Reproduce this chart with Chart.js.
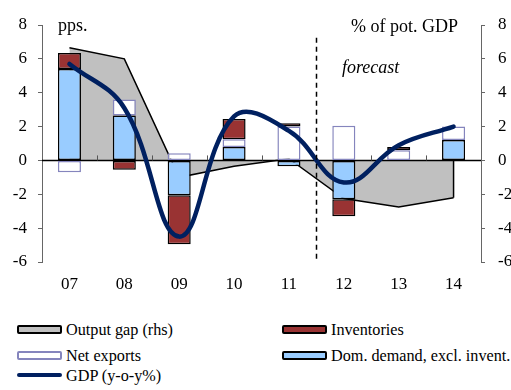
<!DOCTYPE html>
<html>
<head>
<meta charset="utf-8">
<script src="https://cdn.jsdelivr.net/npm/chart.js@4/dist/chart.umd.min.js"></script>
<style>
  html, body { margin: 0; padding: 0; background: #fff; }
  #wrap { position: relative; width: 511px; height: 390px; overflow: hidden; background: #fff; font-family: "Liberation Serif", "Times New Roman", serif; color: #000; }
  #cv { position: absolute; left: 0; top: 0; width: 511px; height: 300px; }
  .ann { position: absolute; font-size: 18px; line-height: 18px; white-space: nowrap; }
  .leg { position: absolute; font-size: 16.2px; line-height: 16px; white-space: nowrap; }
  .box { position: absolute; width: 45px; height: 9px; box-sizing: border-box; border-radius: 2px; }
</style>
</head>
<body>
<div id="wrap">
  <div id="cv"><canvas id="chart"></canvas></div>
  <div class="ann" style="left:58px; top:16px;">pps.</div>
  <div class="ann" style="left:351px; top:17px;">% of pot. GDP</div>
  <div class="ann" style="left:342px; top:58px; font-style:italic;">forecast</div>
  <div id="legend"></div>
</div>
<script>
const categories = ['07', '08', '09', '10', '11', '12', '13', '14'];
const domDemand   = [5.4, 2.65, -2.05, 0.8, -0.35, -2.3, 0.0, 1.2];
const netExports  = [-0.7, 0.95, 0.43, 0.45, 2.0, 2.05, 0.6, 0.8];
const inventories = [0.95, -0.55, -2.9, 1.2, 0.2, -1.0, 0.2, 0.0];
const outputGap   = [6.65, 6.0, -1.0, -0.35, 0.1, -2.25, -2.75, -2.2];
const gdp         = [5.7, 3.1, -4.5, 2.6, 1.75, -1.3, 0.9, 2.0];
const yTicks = [-6, -4, -2, 0, 2, 4, 6, 8];

const C = {
  gap: '#C0C0C0', inv: '#993333', nx: '#8585BD', dom: '#99CCFF', gdp: '#002060'
};

const decor = {
  id: 'decor',
  afterDatasetDraw(chart, args) {
    if (chart.data.datasets[args.index].label !== 'Output gap (rhs)') return;
    const ctx = chart.ctx, x = chart.scales.x, y = chart.scales.y, a = chart.chartArea;
    const y0 = y.getPixelForValue(0);
    ctx.save();
    const li = outputGap.length - 1;
    ctx.strokeStyle = '#000'; ctx.lineWidth = 1.5;
    ctx.beginPath();
    ctx.moveTo(x.getPixelForValue(li), chart.scales.y2.getPixelForValue(outputGap[li]));
    ctx.lineTo(x.getPixelForValue(li), y0);
    ctx.stroke();
    ctx.beginPath(); ctx.moveTo(a.left, y0); ctx.lineTo(a.right, y0); ctx.stroke();
    ctx.strokeStyle = '#555'; ctx.lineWidth = 1;
    for (let i = 0; i < categories.length - 1; i++) {
      const xb = Math.round((x.getPixelForValue(i) + x.getPixelForValue(i + 1)) / 2) + 0.5;
      ctx.beginPath(); ctx.moveTo(xb, y0); ctx.lineTo(xb, y0 - 5); ctx.stroke();
    }
    ctx.restore();
  },
  afterDatasetsDraw(chart) {
    const ctx = chart.ctx, x = chart.scales.x, y = chart.scales.y, a = chart.chartArea;
    const xb = Math.round((x.getPixelForValue(4) + x.getPixelForValue(5)) / 2) + 0.5;
    ctx.save();
    ctx.strokeStyle = '#000'; ctx.lineWidth = 1.5; ctx.setLineDash([5, 4]);
    ctx.beginPath(); ctx.moveTo(xb, y.getPixelForValue(7.25)); ctx.lineTo(xb, a.bottom); ctx.stroke();
    ctx.restore();
  }
};

const tickFont = { family: '"Liberation Serif", "Times New Roman", serif', size: 17 };

const chart = new Chart(document.getElementById('chart'), {
  data: {
    labels: categories,
    datasets: [
      { type: 'line', label: 'Output gap (rhs)', data: outputGap, yAxisID: 'y2', order: 5,
        borderColor: '#000', borderWidth: 1.5, backgroundColor: C.gap, fill: 'origin',
        pointRadius: 0, tension: 0 },
      { type: 'bar', label: 'Dom. demand, excl. invent.', data: domDemand, yAxisID: 'y', stack: 's', order: 3,
        backgroundColor: C.dom, borderColor: '#000', borderWidth: 1.5, borderSkipped: false },
      { type: 'bar', label: 'Net exports', data: netExports, yAxisID: 'y', stack: 's', order: 3,
        backgroundColor: '#FFFFFF', borderColor: C.nx, borderWidth: 1.5, borderSkipped: false },
      { type: 'bar', label: 'Inventories', data: inventories, yAxisID: 'y', stack: 's', order: 3,
        backgroundColor: C.inv, borderColor: '#000', borderWidth: 1.5, borderSkipped: false },
      { type: 'line', label: 'GDP (y-o-y%)', data: gdp, yAxisID: 'y', stack: 'g', order: 1,
        borderColor: C.gdp, borderWidth: 4.5, pointRadius: 0, tension: 0.4, fill: false,
        borderCapStyle: 'round' }
    ]
  },
  options: {
    responsive: true, maintainAspectRatio: false, animation: false, devicePixelRatio: 1,
    layout: { padding: { top: 25, left: 0, right: 0, bottom: 0 } },
    datasets: { bar: { categoryPercentage: 0.42, barPercentage: 1.0 } },
    plugins: { legend: { display: false }, tooltip: { enabled: false } },
    scales: {
      x: {
        stacked: true, offset: true,
        grid: { display: false, drawTicks: false }, border: { display: false },
        ticks: { color: '#000', font: tickFont, padding: 12, maxRotation: 0 },
        afterFit: s => { s.height = 38; }
      },
      y: {
        position: 'left', stacked: true, min: -6, max: 8,
        afterBuildTicks: s => { s.ticks = yTicks.map(v => ({ value: v })); },
        grid: { drawOnChartArea: false, tickLength: 4, color: '#666' },
        border: { color: '#666', width: 1 },
        ticks: { color: '#000', font: tickFont, padding: 11 },
        afterFit: s => { s.width = 42; }
      },
      y2: {
        position: 'right', min: -6, max: 8,
        afterBuildTicks: s => { s.ticks = yTicks.map(v => ({ value: v })); },
        grid: { drawOnChartArea: false, tickLength: 4, color: '#666' },
        border: { color: '#666', width: 1 },
        ticks: { color: '#000', font: tickFont, padding: 13 },
        afterFit: s => { s.width = 30; }
      }
    }
  },
  plugins: [decor]
});

const legendItems = [
  { label: 'Output gap (rhs)', col: 0, row: 0, box: { bg: C.gap, bd: '#000' } },
  { label: 'Inventories', col: 1, row: 0, box: { bg: C.inv, bd: '#000' } },
  { label: 'Net exports', col: 0, row: 1, box: { bg: '#fff', bd: C.nx } },
  { label: 'Dom. demand, excl. invent.', col: 1, row: 1, box: { bg: C.dom, bd: '#000' } },
  { label: 'GDP (y-o-y%)', col: 0, row: 2, line: C.gdp }
];
const colX = [17, 282];
const rowBase = [335, 361.5, 381];
const leg = document.getElementById('legend');
legendItems.forEach(it => {
  const bx = colX[it.col], base = rowBase[it.row];
  const mid = base - 6;
  const b = document.createElement('div');
  b.className = 'box';
  if (it.line) {
    b.style.cssText = `left:${bx}px; top:${mid - 2.5}px; height:4.5px; background:${it.line}; border-radius:2px;`;
  } else {
    b.style.cssText = `left:${bx}px; top:${mid - 4.5}px; background:${it.box.bg}; border:2px solid ${it.box.bd};`;
  }
  leg.appendChild(b);
  const t = document.createElement('div');
  t.className = 'leg';
  t.textContent = it.label;
  t.style.left = (bx + 49) + 'px';
  t.style.top = (base - 13.5) + 'px';
  leg.appendChild(t);
});
</script>
</body>
</html>
